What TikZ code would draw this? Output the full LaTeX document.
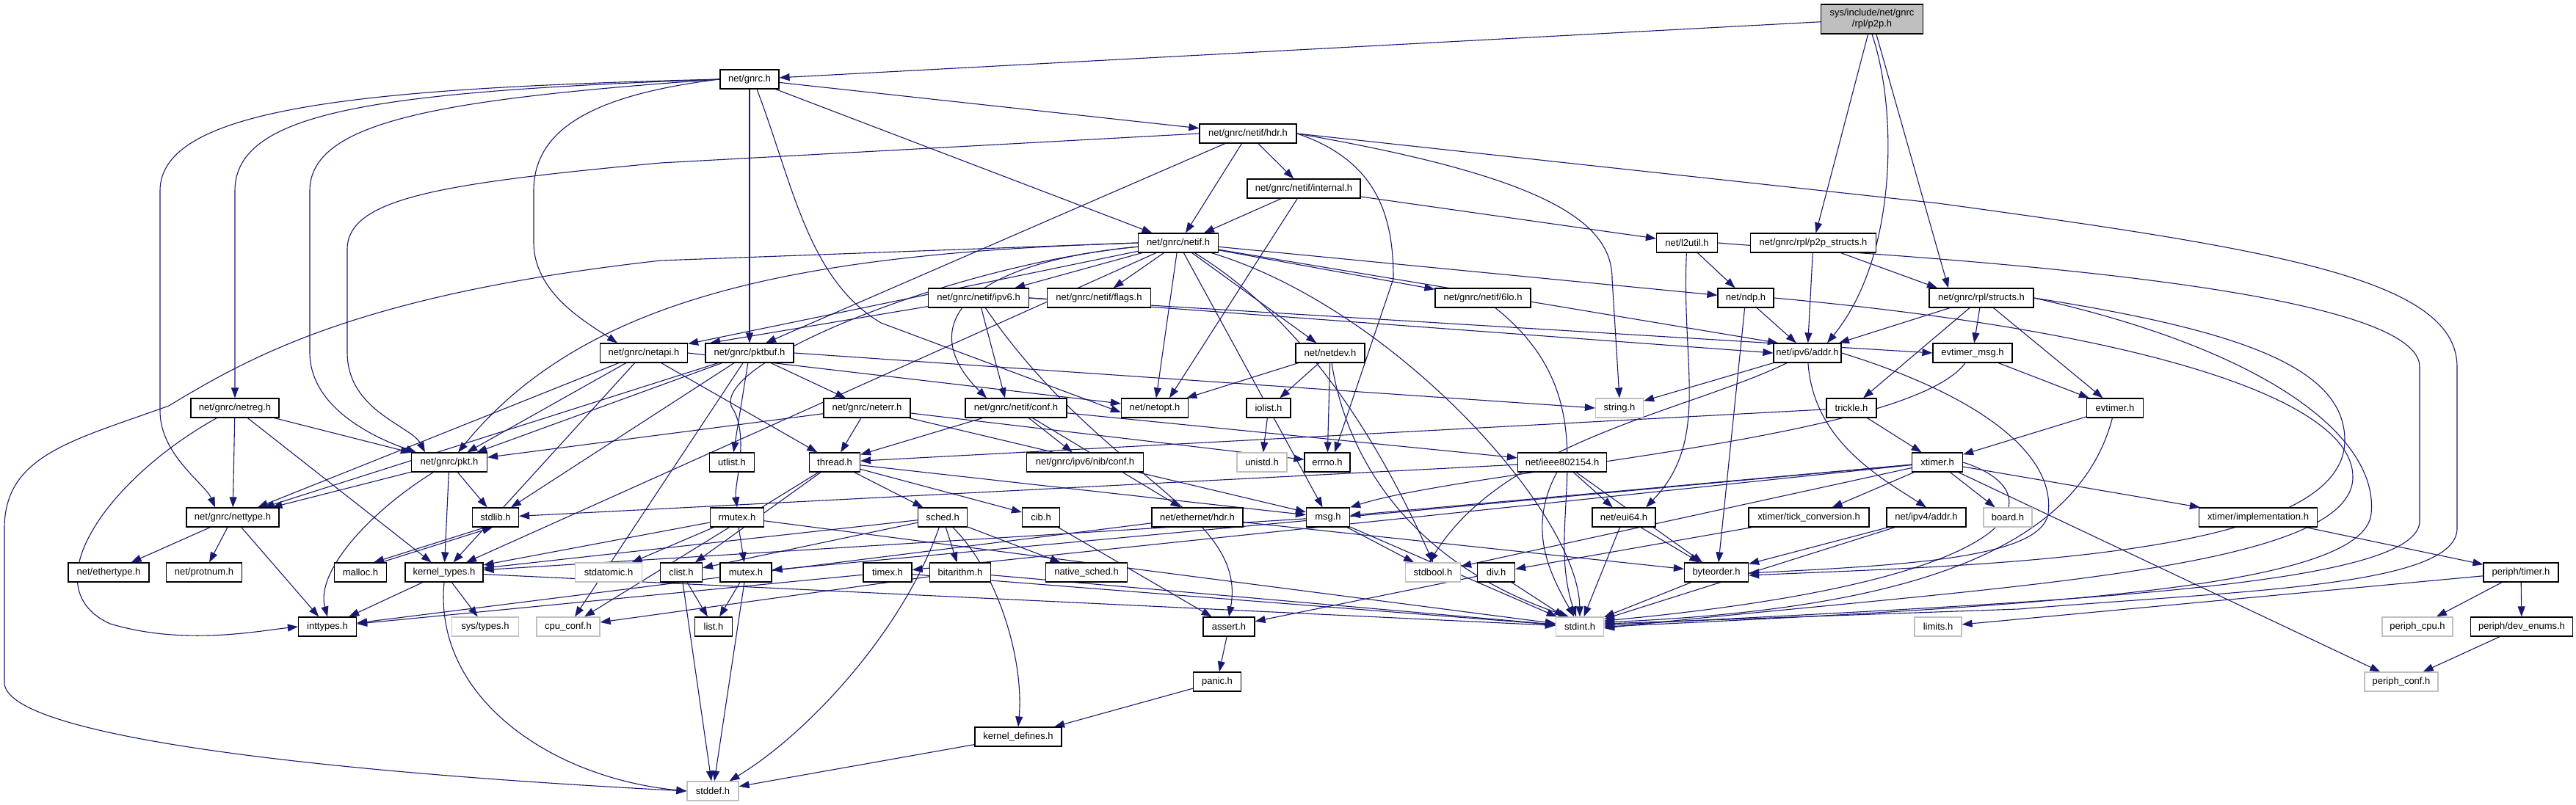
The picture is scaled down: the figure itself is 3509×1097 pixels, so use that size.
\documentclass[tikz,border=0pt]{standalone}
\usepackage{fontspec}
\setmainfont{Liberation Sans}
\usetikzlibrary{arrows.meta}
\definecolor{edgec}{HTML}{191970}
\definecolor{grayb}{HTML}{BFBFBF}
\pgfdeclarelayer{bg}
\pgfsetlayers{bg,main}
\begin{document}
\begin{tikzpicture}[x=1pt,y=-1pt,
  box/.style={draw=black, line width=1.2pt, fill=white, minimum height=26pt, inner sep=0pt, font=\fontsize{13}{15}\selectfont},
  sysbox/.style={box, draw=grayb},
  rootbox/.style={box, fill=grayb, minimum height=40pt, align=center},
  dep/.style={draw=edgec, line width=1.1pt, -{Triangle[length=14pt,width=10pt]}}]
\useasboundingbox (0,0) rectangle (3509,1097);
% nodes
\node[rootbox, minimum width=139pt] (p2p) at (2550,26) {sys/include/net/gnrc\\/rpl/p2p.h};
\node[box, minimum width=80pt] (gnrc) at (1021,108) {net/gnrc.h};
\node[box, minimum width=132pt] (netifhdr) at (1700,182) {net/gnrc/netif/hdr.h};
\node[box, minimum width=154pt] (netifint) at (1776,257) {net/gnrc/netif/internal.h};
\node[box, minimum width=109pt] (netif) at (1605,331) {net/gnrc/netif.h};
\node[box, minimum width=83pt] (l2util) at (2298,331) {net/l2util.h};
\node[box, minimum width=171pt] (p2ps) at (2470,331) {net/gnrc/rpl/p2p\_structs.h};
\node[box, minimum width=137pt] (netifipv6) at (1333,406) {net/gnrc/netif/ipv6.h};
\node[box, minimum width=141pt] (flags) at (1497,406) {net/gnrc/netif/flags.h};
\node[box, minimum width=130pt] (lo6) at (2020,406) {net/gnrc/netif/6lo.h};
\node[box, minimum width=76pt] (ndp) at (2378,406) {net/ndp.h};
\node[box, minimum width=142pt] (rpls) at (2699,406) {net/gnrc/rpl/structs.h};
\node[box, minimum width=119pt] (netapi) at (877,481) {net/gnrc/netapi.h};
\node[box, minimum width=120pt] (pktbuf) at (1021,481) {net/gnrc/pktbuf.h};
\node[box, minimum width=94pt] (netdev) at (1812,481) {net/netdev.h};
\node[box, minimum width=92pt] (ipv6addr) at (2462,481) {net/ipv6/addr.h};
\node[box, minimum width=108pt] (evmsg) at (2687,481) {evtimer\_msg.h};
\node[box, minimum width=120pt] (netreg) at (320,556) {net/gnrc/netreg.h};
\node[box, minimum width=118pt] (neterr) at (1181,556) {net/gnrc/neterr.h};
\node[box, minimum width=138pt] (conf) at (1384,556) {net/gnrc/netif/conf.h};
\node[box, minimum width=91pt] (netopt) at (1573,556) {net/netopt.h};
\node[box, minimum width=60pt] (iolist) at (1728,556) {iolist.h};
\node[sysbox, minimum width=65pt] (string) at (2206,556) {string.h};
\node[box, minimum width=68pt] (trickle) at (2522,556) {trickle.h};
\node[box, minimum width=77pt] (evtimer) at (2881,556) {evtimer.h};
\node[box, minimum width=103pt] (pkt) at (612,630) {net/gnrc/pkt.h};
\node[box, minimum width=61pt] (utlist) at (997,630) {utlist.h};
\node[box, minimum width=69pt] (thread) at (1137,630) {thread.h};
\node[box, minimum width=159pt] (nibconf) at (1478,630) {net/gnrc/ipv6/nib/conf.h};
\node[sysbox, minimum width=68pt] (unistd) at (1719,630) {unistd.h};
\node[box, minimum width=62pt] (errno) at (1808,630) {errno.h};
\node[box, minimum width=121pt] (ieee) at (2128,630) {net/ieee802154.h};
\node[box, minimum width=69pt] (xtimer) at (2639,630) {xtimer.h};
\node[box, minimum width=126pt] (nettype) at (317,705) {net/gnrc/nettype.h};
\node[box, minimum width=63pt] (stdlib) at (675,705) {stdlib.h};
\node[box, minimum width=73pt] (rmutex) at (1004,705) {rmutex.h};
\node[box, minimum width=67pt] (sched) at (1284,705) {sched.h};
\node[box, minimum width=51pt] (cib) at (1418,705) {cib.h};
\node[box, minimum width=124pt] (ethhdr) at (1631,705) {net/ethernet/hdr.h};
\node[box, minimum width=59pt] (msg) at (1809,705) {msg.h};
\node[box, minimum width=86pt] (eui64) at (2212,705) {net/eui64.h};
\node[box, minimum width=164pt] (tick) at (2464,705) {xtimer/tick\_conversion.h};
\node[box, minimum width=108pt] (ipv4addr) at (2624,705) {net/ipv4/addr.h};
\node[sysbox, minimum width=66pt] (board) at (2735,705) {board.h};
\node[box, minimum width=161pt] (impl) at (3076,705) {xtimer/implementation.h};
\node[box, minimum width=110pt] (ethertype) at (148,780) {net/ethertype.h};
\node[box, minimum width=103pt] (protnum) at (278,780) {net/protnum.h};
\node[box, minimum width=71pt] (malloc) at (491,780) {malloc.h};
\node[box, minimum width=106pt] (ktypes) at (605,780) {kernel\_types.h};
\node[sysbox, minimum width=91pt] (stdatomic) at (829,780) {stdatomic.h};
\node[box, minimum width=57pt] (clist) at (928,780) {clist.h};
\node[box, minimum width=70pt] (mutex) at (1016,780) {mutex.h};
\node[box, minimum width=66pt] (timex) at (1209,780) {timex.h};
\node[box, minimum width=83pt] (bitarithm) at (1308,780) {bitarithm.h};
\node[box, minimum width=111pt] (nsched) at (1480,780) {native\_sched.h};
\node[sysbox, minimum width=75pt] (stdbool) at (1952,780) {stdbool.h};
\node[box, minimum width=51pt] (div) at (2038,780) {div.h};
\node[box, minimum width=87pt] (byteorder) at (2338,780) {byteorder.h};
\node[box, minimum width=102pt] (ptimer) at (3434,780) {periph/timer.h};
\node[box, minimum width=79pt] (inttypes) at (446,854) {inttypes.h};
\node[sysbox, minimum width=91pt] (systypes) at (661,854) {sys/types.h};
\node[sysbox, minimum width=86pt] (cpuconf) at (774,854) {cpu\_conf.h};
\node[box, minimum width=51pt] (list) at (972,854) {list.h};
\node[box, minimum width=70pt] (assert) at (1674,854) {assert.h};
\node[sysbox, minimum width=65pt] (stdint) at (2152,854) {stdint.h};
\node[sysbox, minimum width=64pt] (limits) at (2640,854) {limits.h};
\node[sysbox, minimum width=96pt] (pcpu) at (3293,854) {periph\_cpu.h};
\node[box, minimum width=139pt] (devenums) at (3435,854) {periph/dev\_enums.h};
\node[box, minimum width=65pt] (panic) at (1658,929) {panic.h};
\node[sysbox, minimum width=100pt] (pconf) at (3271,929) {periph\_conf.h};
\node[box, minimum width=118pt] (kdefs) at (1387,1004) {kernel\_defines.h};
\node[sysbox, minimum width=70pt] (stddef) at (971,1078) {stddef.h};
% edges
\begin{pgfonlayer}{bg}
% p2p
\draw[dep] (p2p) -- (gnrc);
\draw[dep] (p2p) -- (p2ps);
\draw[dep] (p2p.south) .. controls (2585,150) and (2585,350) .. ([xshift=27pt]ipv6addr.north);
\draw[dep] (p2p) -- ([xshift=-45pt]rpls.north);
% gnrc
\draw[dep] (gnrc) -- (netifhdr);
\draw[dep] (gnrc) -- (netif);
\draw[dep] (gnrc) -- (pktbuf);
\draw[dep] (gnrc.west) .. controls (800,130) and (727,180) .. (727,260) -- (727,330) .. controls (727,400) and (800,440) .. ([xshift=-36pt]netapi.north);
\draw[dep] (gnrc.west) .. controls (520,125) and (320,150) .. (320,260) -- (netreg.north);
\draw[dep] (gnrc.west) .. controls (500,120) and (218,145) .. (218,260) -- (218,560) .. controls (218,620) and (280,660) .. ([xshift=-24pt]nettype.north);
\draw[dep] (gnrc.west) .. controls (600,135) and (422,165) .. (422,260) -- (422,480) .. controls (422,560) and (520,600) .. ([xshift=-45pt]pkt.north);
\draw[dep] ([xshift=10pt]gnrc.south) .. controls (1080,250) and (1100,380) .. (1200,440) -- ([yshift=-6pt]netopt.west);
% netif/hdr
\draw[dep] (netifhdr.west) -- (900,222) .. controls (600,250) and (473,270) .. (473,340) -- (473,480) .. controls (473,560) and (560,580) .. ([xshift=-33pt]pkt.north);
\draw[dep] (netifhdr) -- ([xshift=22pt]pktbuf.north);
\draw[dep] (netifhdr) -- ([xshift=10pt]netif.north);
\draw[dep] (netifhdr) -- (netifint);
\draw[dep] (netifhdr.east) .. controls (1880,220) and (1898,300) .. (1898,380) -- ([xshift=10pt]errno.north);
\draw[dep] (netifhdr.east) .. controls (2100,240) and (2196,300) .. (2196,380) -- (string.north);
\draw[dep] (netifhdr.east) -- (2640,277) .. controls (3100,340) and (3347,380) .. (3347,500) -- (3347,720) .. controls (3347,800) and (3050,805) .. (2750,830) -- ([yshift=4pt]stdint.east);
% netif/internal
\draw[dep] (netifint) -- ([xshift=35pt]netif.north);
\draw[dep] (netifint) -- ([xshift=20pt]netopt.north);
\draw[dep] (netifint) -- (l2util);
% netif
\draw[dep] (netif) -- (netapi);
\draw[dep] (netif.west) .. controls (1100,345) and (800,400) .. ([xshift=12pt]pkt.north);
\draw[dep] (netif) -- (netifipv6);
\draw[dep] (netif) -- (flags);
\draw[dep] (netif) .. controls (1300,360) and (1250,450) .. ([xshift=-40pt]conf.north);
\draw[dep] (netif) -- (netopt);
\draw[dep] (netif) -- (netdev);
\draw[dep] (netif) -- (lo6);
\draw[dep] (netif) -- (ndp);
\draw[dep] (netif) -- ([xshift=-40pt]ipv6addr.north);
\draw[dep] (netif) .. controls (1300,360) and (950,500) .. (1000,560) .. controls (1020,600) and (1000,660) .. (rmutex.north);
\draw[dep] (netif) -- ([xshift=30pt]ktypes.north);
\draw[dep] (netif) -- (msg);
\draw[dep] (netif.west) -- (900,355) .. controls (500,400) and (350,480) .. (230,553) .. controls (100,600) and (6,620) .. (6,720) -- (6,930) .. controls (6,1000) and (400,1050) .. (stddef.west);
\draw[dep] (netif) .. controls (1800,450) and (1900,650) .. (stdbool.north);
\draw[dep] (netif) .. controls (1900,420) and (2150,700) .. (stdint.north);
% l2util
\draw[dep] (l2util) -- (ndp);
\draw[dep] (l2util) .. controls (2290,500) and (2330,600) .. ([xshift=30pt]eui64.north);
\draw[dep] (l2util.east) .. controls (2500,345) and (3296,380) .. (3296,500) -- (3296,710) .. controls (3296,800) and (2800,820) .. ([yshift=2pt]stdint.east);
% p2p structs
\draw[dep] (p2ps) -- (ipv6addr);
\draw[dep] (p2ps) -- ([xshift=-60pt]rpls.north);
% netif/ipv6
\draw[dep] (netifipv6) -- ([xshift=30pt]netapi.north east);
\draw[dep] (netifipv6) -- ([xshift=-15pt]conf.north);
\draw[dep] (netifipv6.east) -- (ipv6addr.west);
\draw[dep] (netifipv6.east) -- (evmsg.west);
\draw[dep] (netifipv6) .. controls (1500,650) and (1700,700) .. (assert.north);
% rpl structs
\draw[dep] (rpls) -- (ipv6addr);
\draw[dep] (rpls) -- (evmsg);
\draw[dep] (rpls) -- (evtimer);
\draw[dep] (rpls) -- (trickle);
\draw[dep] (rpls.east) .. controls (3050,450) and (3194,500) .. (3194,600) .. controls (3194,760) and (2700,770) .. ([yshift=-4pt]byteorder.east);
\draw[dep] (rpls.east) .. controls (3100,480) and (3240,600) .. (3230,700) .. controls (3220,800) and (2800,825) .. (stdint.east);
% ndp
\draw[dep] (ndp) -- (ipv6addr);
\draw[dep] (ndp) -- ([xshift=3pt]byteorder.north);
\draw[dep] (ndp.east) .. controls (2900,450) and (3205,540) .. (3205,650) .. controls (3205,780) and (2700,800) .. ([yshift=-2pt]stdint.east);
% ipv6 addr
\draw[dep] (ipv6addr) -- (string);
\draw[dep] (ipv6addr) .. controls (2300,560) and (2050,600) .. ([xshift=-5pt]stdbool.north);
\draw[dep] (ipv6addr) .. controls (2470,600) and (2560,650) .. (ipv4addr.north);
\draw[dep] (ipv6addr.east) .. controls (2700,540) and (2800,620) .. (2790,700) .. controls (2780,760) and (2600,770) .. ([yshift=-1pt]byteorder.east);
% evtimer_msg, evtimer, trickle, xtimer
\draw[dep] (evmsg) -- (evtimer);
\draw[dep] (evmsg) .. controls (2600,600) and (2000,640) .. (msg.north east);
\draw[dep] (evtimer) -- (xtimer);
\draw[dep] (evtimer) .. controls (2830,750) and (2600,830) .. ([yshift=6pt]stdint.east);
\draw[dep] (trickle) -- (xtimer);
\draw[dep] (trickle) -- (thread);
\draw[dep] (xtimer) -- (msg);
\draw[dep] (xtimer) -- (tick);
\draw[dep] (xtimer) -- (board);
\draw[dep] (xtimer) -- (impl);
\draw[dep] (xtimer) -- (pconf);
\draw[dep] (xtimer.east) .. controls (2800,670) and (2780,790) .. ([yshift=8pt]stdint.east);
\draw[dep] (xtimer) -- (stdbool);
\draw[dep] (xtimer) -- (mutex);
\draw[dep] (xtimer) -- (timex);
\draw[dep] (tick) -- (div);
\draw[dep] (div) -- (stdint);
\draw[dep] (div) -- (assert);
\draw[dep] (impl) -- (ptimer);
\draw[dep] (ptimer) -- (limits);
\draw[dep] (ptimer) -- (pcpu);
\draw[dep] (ptimer) -- (devenums);
\draw[dep] (devenums) -- (pconf);
% netdev, iolist, 6lo
\draw[dep] (netdev) -- (netopt);
\draw[dep] (netdev) -- (iolist);
\draw[dep] (netdev) -- (errno);
\draw[dep] (netdev) .. controls (1830,600) and (1900,760) .. ([xshift=-15pt]stdint.north);
\draw[dep] (iolist) -- (unistd);
\draw[dep] (lo6) .. controls (2200,550) and (2100,700) .. ([xshift=-5pt]stdint.north);
% pktbuf
\draw[dep] (pktbuf) -- (neterr);
\draw[dep] (pktbuf) -- (utlist);
\draw[dep] (pktbuf) -- (pkt);
\draw[dep] (pktbuf.east) -- (string.west);
\draw[dep] (pktbuf) -- (stdlib);
\draw[dep] (pktbuf) -- (nettype);
\draw[dep] (pktbuf) -- (cpuconf);
% netapi
\draw[dep] (netapi) -- (pkt);
\draw[dep] (netapi) -- (nettype);
\draw[dep] (netapi) -- (thread);
\draw[dep] (netapi.east) -- ([yshift=6pt]netopt.west);
\draw[dep] (netapi) -- (ktypes);
% neterr
\draw[dep] (neterr) -- (thread);
\draw[dep] (neterr) -- (pkt);
\draw[dep] (neterr) -- (errno);
\draw[dep] (neterr) -- (msg);
% conf
\draw[dep] (conf) -- (thread);
\draw[dep] (conf) -- (nibconf);
\draw[dep] (conf) -- (ieee);
\draw[dep] (conf) -- (ethhdr);
% thread
\draw[dep] (thread) -- (clist);
\draw[dep] (thread) -- (cib);
\draw[dep] (thread) -- (msg);
\draw[dep] (thread) -- (cpuconf);
\draw[dep] (thread) -- (sched);
% netreg, pkt, nettype
\draw[dep] (netreg) -- (nettype);
\draw[dep] (netreg) -- (pkt);
\draw[dep] (netreg) .. controls (150,650) and (40,800) .. (150,850) .. controls (250,880) and (350,860) .. (inttypes.west);
\draw[dep] (netreg) -- (ktypes);
\draw[dep] (pkt) -- (nettype);
\draw[dep] (pkt) -- (stdlib);
\draw[dep] (pkt) -- (ktypes);
\draw[dep] (pkt) .. controls (500,700) and (430,780) .. (inttypes.north);
\draw[dep] (nettype) -- (ethertype);
\draw[dep] (nettype) -- (protnum);
\draw[dep] (nettype) -- (inttypes);
\draw[dep] ([xshift=-14pt]stdlib.south) -- ([xshift=18pt]malloc.north);
\draw[dep] ([xshift=28pt]malloc.north) -- ([xshift=-4pt]stdlib.south);
% kernel types etc
\draw[dep] (ktypes) -- (inttypes);
\draw[dep] (ktypes) -- (systypes);
\draw[dep] (ktypes.south) .. controls (590,950) and (750,1060) .. (stddef.west);
\draw[dep] (ktypes) -- (stdint);
\draw[dep] (rmutex) -- (stdatomic);
\draw[dep] (rmutex) -- (mutex);
\draw[dep] (rmutex) -- (ktypes);
\draw[dep] (rmutex) -- (stdint);
\draw[dep] (sched) -- (nsched);
\draw[dep] (sched) -- (bitarithm);
\draw[dep] (sched) .. controls (1360,780) and (1395,900) .. (kdefs.north);
\draw[dep] (sched) -- (clist);
\draw[dep] (sched) -- (ktypes);
\draw[dep] (sched) .. controls (1230,860) and (1100,1000) .. (stddef);
\draw[dep] (cib) -- (assert);
\draw[dep] (msg) -- (stdbool);
\draw[dep] (msg) -- (stdint);
\draw[dep] (msg) -- (ktypes);
\draw[dep] (ethhdr) -- (byteorder);
\draw[dep] (ethhdr) -- (inttypes);
\draw[dep] (ieee) -- (eui64);
\draw[dep] (ieee) -- (byteorder);
\draw[dep] (ieee) .. controls (2080,720) and (2110,780) .. (stdint);
\draw[dep] (ieee) -- (stdlib);
\draw[dep] (eui64) -- (byteorder);
\draw[dep] (eui64) -- (stdint);
\draw[dep] (ipv4addr) -- (byteorder);
\draw[dep] (ipv4addr) -- (stdint);
\draw[dep] (byteorder) -- (stdint);
\draw[dep] (clist) -- (list);
\draw[dep] (clist) -- (stddef);
\draw[dep] (mutex) -- (list);
\draw[dep] (mutex) -- (stddef);
\draw[dep] (bitarithm) -- (cpuconf);
\draw[dep] (bitarithm) -- (stdint);
\draw[dep] (timex) -- (inttypes);
\draw[dep] (timex) -- (stdint);
\draw[dep] (assert) -- (panic);
\draw[dep] (panic) -- (kdefs);
\draw[dep] (kdefs) -- (stddef);
\end{pgfonlayer}
\end{tikzpicture}
\end{document}
